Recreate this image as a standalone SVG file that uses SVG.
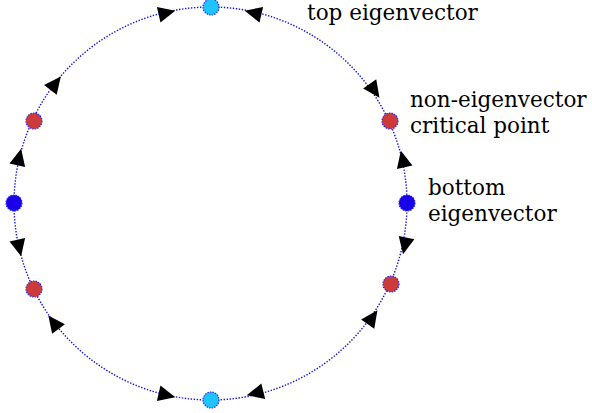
<svg xmlns="http://www.w3.org/2000/svg" width="592" height="413" viewBox="0 0 592 413">
<style>
.ring{fill:none;stroke:#1010ee;stroke-width:1.4;stroke-dasharray:1.4,1.6}
.pt{stroke:#2020ee;stroke-width:1.2;stroke-dasharray:1.4,1.2}
.top{fill:#1ec3ff}
.side{fill:#1a00e8}
.red{fill:#cc3a3a}
.arr{fill:#000}
text{font-family:"DejaVu Serif",serif;font-size:21.5px;fill:#000}
</style>
<defs>
<path id="ah" d="M9.5,0 L-7.5,-8 L-7.5,8 Z"/>
</defs>
<g id="connectors">
<circle class="ring" cx="210.5" cy="203.5" r="196.5"/>
<use href="#ah" class="arr" transform="translate(166,13) rotate(-13)"/>
<use href="#ah" class="arr" transform="translate(254,13) rotate(-167)"/>
<use href="#ah" class="arr" transform="translate(374,90) rotate(55)"/>
<use href="#ah" class="arr" transform="translate(403,160) rotate(-103)"/>
<use href="#ah" class="arr" transform="translate(405,245) rotate(102)"/>
<use href="#ah" class="arr" transform="translate(372,318) rotate(-55)"/>
<use href="#ah" class="arr" transform="translate(256,393) rotate(166)"/>
<use href="#ah" class="arr" transform="translate(166,395) rotate(13)"/>
<use href="#ah" class="arr" transform="translate(54,323) rotate(-127)"/>
<use href="#ah" class="arr" transform="translate(19,247) rotate(77)"/>
<use href="#ah" class="arr" transform="translate(19,158) rotate(-77)"/>
<use href="#ah" class="arr" transform="translate(55,84) rotate(-52)"/>
</g>
<g id="top-point"><circle class="pt top" cx="211" cy="7" r="8"/></g>
<g id="bottom-point"><circle class="pt top" cx="211" cy="400" r="8"/></g>
<g id="left-point"><circle class="pt side" cx="14" cy="203" r="8"/></g>
<g id="right-point"><circle class="pt side" cx="407" cy="203" r="8"/></g>
<g id="red-ur"><circle class="pt red" cx="390" cy="121" r="8"/></g>
<g id="red-ul"><circle class="pt red" cx="34" cy="121" r="8"/></g>
<g id="red-ll"><circle class="pt red" cx="34" cy="289" r="8"/></g>
<g id="red-lr"><circle class="pt red" cx="391" cy="284" r="8"/></g>
<g id="labels">
<text x="307" y="20">top eigenvector</text>
<text x="410" y="107">non-eigenvector</text>
<text x="410" y="133">critical point</text>
<text x="428" y="195">bottom</text>
<text x="428" y="221">eigenvector</text>
</g>
</svg>
